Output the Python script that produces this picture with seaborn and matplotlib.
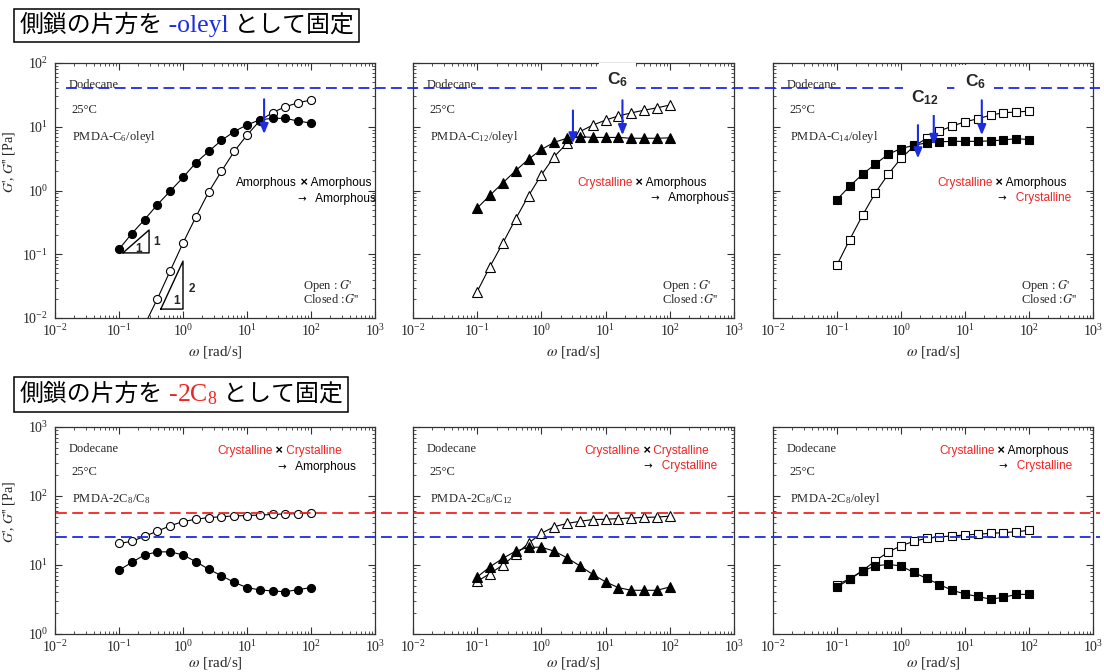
import numpy as np
import pandas as pd
import matplotlib
matplotlib.use("Agg")
import matplotlib.pyplot as plt
import seaborn as sns
from matplotlib.lines import Line2D
from matplotlib.offsetbox import TextArea, HPacker, AnchoredOffsetbox
from matplotlib.transforms import blended_transform_factory
from matplotlib.ticker import LogLocator, NullFormatter, LogFormatterSciNotation

# angular frequency [rad/s], 5 points per decade
omega = [0.1, 0.158, 0.251, 0.398, 0.631, 1.0, 1.58, 2.51, 3.98, 6.31,
         10.0, 15.8, 25.1, 39.8, 63.1, 100.0]

# top row: one side chain fixed as -oleyl  (G' open, G'' closed)
c6_oleyl_gp = [0.0013, 0.0031, 0.0078, 0.020, 0.055, 0.15, 0.38, 0.94, 2.0, 4.1,
               7.4, 12.4, 16.7, 20.6, 23.8, 26.3]
c6_oleyl_gpp = [0.12, 0.21, 0.35, 0.60, 0.98, 1.6, 2.7, 4.1, 6.1, 8.4,
                10.7, 12.8, 13.6, 13.5, 12.3, 11.4]
c12_oleyl_gp = [0.026, 0.064, 0.15, 0.36, 0.83, 1.76, 3.4, 5.5, 8.4, 10.6,
                12.7, 14.8, 16.5, 18.2, 19.8, 21.9]
c12_oleyl_gpp = [0.53, 0.84, 1.32, 2.05, 3.1, 4.4, 5.7, 6.6, 7.0, 6.8,
                 6.8, 6.8, 6.6, 6.6, 6.6, 6.7]
c14_oleyl_gp = [0.068, 0.17, 0.41, 0.92, 1.8, 3.2, 4.9, 6.6, 8.6, 10.2,
                12.0, 13.3, 15.2, 16.6, 17.0, 17.6]
c14_oleyl_gpp = [0.72, 1.17, 1.8, 2.6, 3.7, 4.55, 5.1, 5.6, 5.8, 5.9,
                 5.9, 5.9, 6.0, 6.2, 6.5, 6.3]

# bottom row: one side chain fixed as -2C8
c8_2c8_gp = [20.5, 22, 26, 31, 37, 42.6, 46, 48.7, 50, 51.5,
             52, 53, 54, 55, 55.5, 57]
c8_2c8_gpp = [8.4, 10.9, 14, 15.5, 15.5, 14, 11.2, 8.7, 7.0, 5.6,
              4.7, 4.36, 4.2, 4.1, 4.4, 4.7]
c12_2c8_gp = [5.8, 7.5, 10, 14.2, 20.7, 28.8, 35.9, 40, 43, 45.6,
              46, 47, 48, 49, 49.5, 51]
c12_2c8_gpp = [6.7, 9.4, 12.5, 15.9, 18.1, 18.1, 15.9, 12.7, 9.7, 7.3,
               5.7, 4.7, 4.3, 4.3, 4.3, 4.8]
oleyl_2c8_gp = [5.2, 6.3, 8.3, 11.5, 15.4, 19.0, 22, 24.4, 25.5, 26.4,
                27.2, 27.9, 28.8, 29.4, 30.4, 31.8]
oleyl_2c8_gpp = [4.8, 6.2, 8.2, 9.7, 10.2, 9.7, 7.8, 6.4, 5.2, 4.3,
                 3.8, 3.5, 3.2, 3.4, 3.75, 3.75]

# reference plateau levels [Pa]
oleyl_ref = 41
c8_red_ref = 56
c8_blue_ref = 25.8

# crossover arrows (omega, G top, G bottom) per top panel
arrows_top = [
    [(18.5, 27, 7.7)],
    [(3.1, 18, 5.5), (18.3, 26, 7.4)],
    [(1.84, 10.6, 3.2), (3.25, 16, 5.2), (18.3, 26, 7.4)],
]
# chain labels above arrows (omega, G, label)
chain_labels = [
    [],
    [(15.2, 54, "6")],
    [(2.37, 28, "12"), (14.8, 50, "6")],
]

# slope guides in first panel
slope1_x = [0.115, 0.295, 0.295, 0.115]
slope1_y = [0.105, 0.105, 0.24, 0.105]
slope2_x = [0.45, 1.0, 1.0, 0.45]
slope2_y = [0.0138, 0.0138, 0.078, 0.0138]

top_names = [r"PMDA-C$_\mathdefault{6}$/oleyl", r"PMDA-C$_\mathdefault{12}$/oleyl",
             r"PMDA-C$_\mathdefault{14}$/oleyl"]
bottom_names = [r"PMDA-2C$_\mathdefault{8}$/C$_\mathdefault{8}$",
                r"PMDA-2C$_\mathdefault{8}$/C$_\mathdefault{12}$",
                r"PMDA-2C$_\mathdefault{8}$/oleyl"]
markers = ["o", "^", "s"]
marker_sizes = [5.8, 6.6, 5.4]

RED = "#f02424"
BLUE = "#1c2ce0"
# (word, colour) pieces of the two-line notes
top_notes = [
    ([("Amorphous", "k"), (" ×", "x"), (" Amorphous", "k")], [("→", "a"), ("   Amorphous", "k")]),
    ([("Crystalline", RED), (" ×", "x"), (" Amorphous", "k")], [("→", "a"), ("   Amorphous", "k")]),
    ([("Crystalline", RED), (" ×", "x"), (" Amorphous", "k")], [("→", "a"), ("   Crystalline", RED)]),
]
bottom_notes = [
    ([("Crystalline", RED), (" ×", "x"), (" Crystalline", RED)], [("→", "a"), ("   Amorphous", "k")]),
    ([("Crystalline", RED), (" ×", "x"), (" Crystalline", RED)], [("→", "a"), ("   Crystalline", RED)]),
    ([("Crystalline", RED), (" ×", "x"), (" Amorphous", "k")], [("→", "a"), ("   Crystalline", RED)]),
]

sns.set_style("ticks")
plt.rcParams["font.family"] = ["Liberation Serif", "DejaVu Serif"]
plt.rcParams["mathtext.fontset"] = "stix"
plt.rcParams["axes.edgecolor"] = "#333333"
plt.rcParams["axes.linewidth"] = 0.9

W, H = 1104, 672
fig = plt.figure(figsize=(W / 100, H / 100), dpi=100)


def px_rect(left, top, right, bottom):
    return [left / W, 1 - bottom / H, (right - left) / W, (bottom - top) / H]


col_edges = [(55, 375), (413, 734), (773, 1093)]
row_edges = [(63, 318), (427, 634)]
sans = ["Liberation Sans", "DejaVu Sans"]
txt_size = 9


def style_axes(ax, ylim):
    ax.set_xscale("log")
    ax.set_yscale("log")
    ax.set_xlim(1e-2, 1e3)
    ax.set_ylim(*ylim)
    for axis in (ax.xaxis, ax.yaxis):
        axis.set_major_locator(LogLocator(base=10, numticks=12))
        axis.set_minor_locator(LogLocator(base=10, subs=np.arange(2, 10), numticks=12))
        axis.set_minor_formatter(NullFormatter())
    ax.xaxis.set_major_formatter(LogFormatterSciNotation())
    ax.tick_params(which="both", direction="in", top=True, right=True,
                   labelsize=10, color="#333333")
    ax.tick_params(axis="x", pad=4)
    ax.tick_params(axis="y", pad=5)
    ax.tick_params(which="major", length=5, width=0.8)
    ax.tick_params(which="minor", length=2.5, width=0.6)
    ax.grid(False)


def piece_props(c, size):
    if c == "x":
        return dict(color="black", family=sans, size=size + 0.5, weight="bold")
    if c == "a":
        return dict(color="black", family=["DejaVu Sans"], size=size - 1.2)
    return dict(color=c, family=sans, size=size)


def colored_line(parts, x_px, y_px, size=8.6):
    areas = [TextArea(s, textprops=piece_props(c, size)) for s, c in parts]
    box = HPacker(children=areas, align="baseline", pad=0, sep=0)
    anch = AnchoredOffsetbox(loc="center left", child=box, pad=0, borderpad=0, frameon=False,
                             bbox_to_anchor=(x_px / W, 1 - y_px / H),
                             bbox_transform=fig.transFigure)
    fig.add_artist(anch)


def title_box(parts, x_px, y_px):
    areas = [TextArea(s, textprops=p) for s, p in parts]
    box = HPacker(children=areas, align="baseline", pad=0, sep=0)
    anch = AnchoredOffsetbox(loc="upper left", child=box, pad=0.22, borderpad=0, frameon=True,
                             prop=dict(size=17), bbox_to_anchor=(x_px / W, 1 - y_px / H),
                             bbox_transform=fig.transFigure)
    anch.patch.set_edgecolor("black")
    anch.patch.set_linewidth(1.1)
    anch.patch.set_boxstyle("square", pad=0)
    fig.add_artist(anch)


cjk = dict(family=["Noto Sans CJK JP", "DejaVu Sans"], size=17.2, color="black")
title_box([("側鎖の片方を", cjk),
           (" -oleyl", dict(family=["Liberation Serif"], size=18.5, color=BLUE)),
           (" として固定", cjk)], 14, 9)
title_box([("側鎖の片方を", cjk),
           (r" -2C$_\mathdefault{8}$", dict(family=["Liberation Serif"], size=18.5, color=RED)),
           (" として固定", cjk)], 14, 377)

top_sets = [(c6_oleyl_gp, c6_oleyl_gpp), (c12_oleyl_gp, c12_oleyl_gpp), (c14_oleyl_gp, c14_oleyl_gpp)]
bottom_sets = [(c8_2c8_gp, c8_2c8_gpp), (c12_2c8_gp, c12_2c8_gpp), (oleyl_2c8_gp, oleyl_2c8_gpp)]

top_axes, bottom_axes = [], []
for row, (sets, names, ylim) in enumerate([
        (top_sets, top_names, (1e-2, 1e2)),
        (bottom_sets, bottom_names, (1e0, 1e3))]):
    top, bottom = row_edges[row]
    for col in range(3):
        left, right = col_edges[col]
        ax = fig.add_axes(px_rect(left, top, right, bottom))
        ax.set_facecolor("none")
        style_axes(ax, ylim)
        gp, gpp = sets[col]
        df = pd.DataFrame({"omega": omega, "Gp": gp, "Gpp": gpp})
        common = dict(color="black", linewidth=0.8, marker=markers[col],
                      markersize=marker_sizes[col], markeredgecolor="black",
                      markeredgewidth=0.8)
        sns.lineplot(data=df, x="omega", y="Gp", ax=ax, markerfacecolor="white", zorder=3, **common)
        sns.lineplot(data=df, x="omega", y="Gpp", ax=ax, markerfacecolor="black", zorder=4, **common)
        ax.set_xlabel(r"$\omega$ [rad/s]", fontsize=11)
        if col == 0:
            ax.set_ylabel(r"$G$', $G$'' [Pa]", fontsize=10)
        else:
            ax.set_ylabel("")
            ax.tick_params(axis="y", labelleft=False)

        if row == 0:
            ys = [0.914, 0.816, 0.71]
        else:
            ys = [0.894, 0.783, 0.652]
        ax.text(0.042, ys[0], "Dodecane", transform=ax.transAxes, fontsize=txt_size, va="center")
        ax.text(0.05, ys[1], "25°C", transform=ax.transAxes, fontsize=txt_size, va="center")
        ax.text(0.053, ys[2], names[col], transform=ax.transAxes, fontsize=txt_size, va="center")
        if row == 0:
            ax.text(0.775, 0.101, "Open : $G$'\nClosed :$G$''", transform=ax.transAxes,
                    fontsize=txt_size, va="center", linespacing=0.95)
            top_axes.append(ax)
        else:
            bottom_axes.append(ax)

# notes (positions in px)
top_note_pos = [((236, 183), (297, 199)), ((577, 183), (650, 198)), ((937, 183), (997, 198))]
bottom_note_pos = [((217, 451), (277, 467)), ((584, 451), (643, 466)), ((939, 451), (998, 466))]
for notes, pos in [(top_notes, top_note_pos), (bottom_notes, bottom_note_pos)]:
    for (l1, l2), (p1, p2) in zip(notes, pos):
        colored_line(l1, *p1)
        colored_line(l2, *p2)

# axis-label placement
for ax, yfrac in [(top_axes[0], 0.61), (bottom_axes[0], 0.59)]:
    ax.yaxis.set_label_coords(-0.118, yfrac)
for ax in top_axes:
    ax.xaxis.set_label_coords(0.5, -0.103)
for ax in bottom_axes:
    ax.xaxis.set_label_coords(0.5, -0.1)

# crossover arrows
for ax, arr in zip(top_axes, arrows_top):
    for x, y0, y1 in arr:
        ax.annotate("", xy=(x, y1), xytext=(x, y0),
                    arrowprops=dict(arrowstyle="-|>,head_length=0.6,head_width=0.25",
                                    color=BLUE, lw=1.5, shrinkA=0, shrinkB=0), zorder=6)

# slope triangles
ax0 = top_axes[0]
ax0.plot(slope1_x, slope1_y, color="black", lw=1.0, zorder=5)
ax0.plot(slope2_x, slope2_y, color="black", lw=1.0, zorder=5)
bold = dict(family=sans, fontsize=8.5, fontweight="bold", ha="center", va="center")
ax0.text(0.205, 0.121, "1", **bold)
ax0.text(0.38, 0.155, "1", **bold)
ax0.text(0.78, 0.0186, "1", **bold)
ax0.text(1.38, 0.0285, "2", **bold)

# reference plateau lines spanning the panels
dash = (0, (6, 3))
tr_top = blended_transform_factory(fig.transFigure, top_axes[0].transData)
fig.add_artist(Line2D([66 / W, 1100 / W], [oleyl_ref, oleyl_ref], transform=tr_top,
                      color=BLUE, lw=1.3, linestyle=dash, zorder=2))
tr_bot = blended_transform_factory(fig.transFigure, bottom_axes[0].transData)
fig.add_artist(Line2D([56 / W, 1100 / W], [c8_red_ref, c8_red_ref], transform=tr_bot,
                      color=RED, lw=1.3, linestyle=dash, zorder=2))
fig.add_artist(Line2D([56 / W, 1100 / W], [c8_blue_ref, c8_blue_ref], transform=tr_bot,
                      color=BLUE, lw=1.3, linestyle=dash, zorder=2))

# chain-length labels with white backing over frame and dashed line
for ax, labels in zip(top_axes, chain_labels):
    for x, y, sub in labels:
        fig.text(x, y, r"C$_\mathdefault{%s}$" % sub, transform=ax.transData,
                 family=sans, fontsize=12.5, fontweight="bold", ha="center", va="center",
                 zorder=5, bbox=dict(boxstyle="square,pad=0.45", fc="white", ec="none"))

fig.savefig("out.png", dpi=100, facecolor="white")
